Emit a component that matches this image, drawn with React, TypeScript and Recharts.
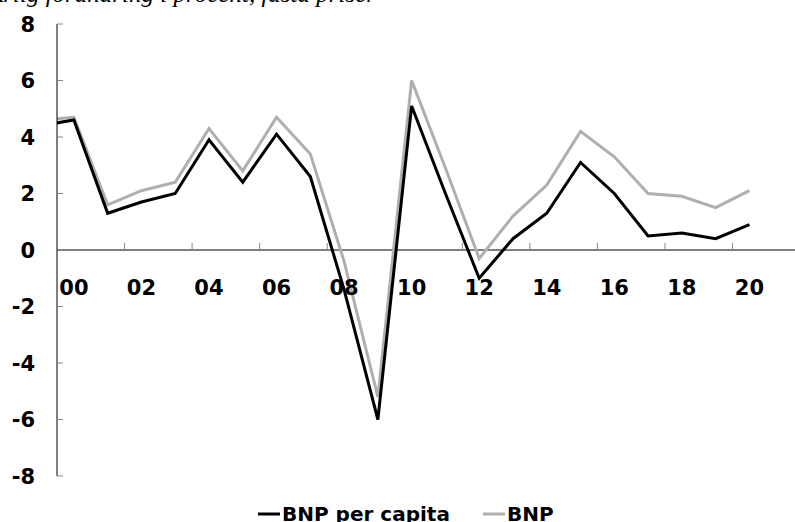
import React from 'react';
import { LineChart, Line, XAxis, YAxis, ReferenceLine } from 'recharts';

// årlig förändring i procent; 1999 ligger utanför axeln och klipps bort
const years = [1999, 2000, 2001, 2002, 2003, 2004, 2005, 2006, 2007, 2008, 2009, 2010, 2011, 2012, 2013, 2014, 2015, 2016, 2017, 2018, 2019, 2020];
const bnpPerCapita = [4.4, 4.6, 1.3, 1.7, 2.0, 3.9, 2.4, 4.1, 2.6, -1.4, -6.0, 5.1, 2.0, -1.0, 0.4, 1.3, 3.1, 2.0, 0.5, 0.6, 0.4, 0.9];
const bnp = [4.6, 4.7, 1.6, 2.1, 2.4, 4.3, 2.8, 4.7, 3.4, -0.4, -5.2, 6.0, 2.9, -0.3, 1.2, 2.3, 4.2, 3.3, 2.0, 1.9, 1.5, 2.1];

const xLabelYears = [2000, 2002, 2004, 2006, 2008, 2010, 2012, 2014, 2016, 2018, 2020];
const xTickMarks = [2001.5, 2003.5, 2005.5, 2007.5, 2009.5, 2011.5, 2013.5, 2015.5, 2017.5, 2019.5];
const yTicks = [-8, -6, -4, -2, 0, 2, 4, 6, 8];

const data = years.map((year, i) => ({
  year,
  perCapita: bnpPerCapita[i],
  bnp: bnp[i],
}));

const W = 795;
const H = 522;
const TOP = 24;
const PLOT_BOTTOM = 476;
const ZERO_Y = TOP + (PLOT_BOTTOM - TOP) / 2;
const FONT = '"DejaVu Sans", Verdana, sans-serif';
const GRAY = '#afafaf';

const XTick = (props: any) => {
  const { x, payload } = props;
  const label = String(payload.value % 100).padStart(2, '0');
  return (
    <text x={x} y={ZERO_Y + 45} textAnchor="middle" fontFamily={FONT} fontWeight="bold" fontSize={21} fill="#000">
      {label}
    </text>
  );
};

const YTick = (props: any) => {
  const { x, y, payload } = props;
  return (
    <g>
      <line x1={x} x2={x + 6} y1={y} y2={y} stroke="#888" strokeWidth={1} />
      <text x={x - 22} y={y} dy="0.36em" textAnchor="end" fontFamily={FONT} fontWeight="bold" fontSize={21} fill="#000">
        {payload.value}
      </text>
    </g>
  );
};

export default function App() {
  return (
    <div style={{ position: 'relative', width: W, height: H, overflow: 'hidden', background: '#fff' }}>
      <style>{'body{margin:0}'}</style>
      <LineChart width={W} height={H} data={data} margin={{ top: TOP, right: 0, bottom: 0, left: 0 }}>
        <XAxis
          dataKey="year"
          type="number"
          domain={[1999.5, 2021.35]}
          allowDataOverflow
          ticks={xLabelYears}
          tick={<XTick />}
          axisLine={false}
          tickLine={false}
          height={H - PLOT_BOTTOM}
          interval={0}
        />
        <YAxis
          type="number"
          domain={[-8, 8]}
          ticks={yTicks}
          tick={<YTick />}
          tickLine={false}
          tickSize={0}
          tickMargin={0}
          axisLine={{ stroke: '#000', strokeWidth: 1 }}
          width={57}
          interval={0}
        />
        <ReferenceLine y={0} stroke="#000" strokeWidth={1} />
        {xTickMarks.map((t) => (
          <ReferenceLine
            key={t}
            segment={[
              { x: t, y: 0 },
              { x: t, y: 0.25 },
            ]}
            stroke="#888"
            strokeWidth={1}
          />
        ))}
        <Line dataKey="bnp" stroke={GRAY} strokeWidth={3} dot={false} isAnimationActive={false} />
        <Line dataKey="perCapita" stroke="#000" strokeWidth={3} dot={false} isAnimationActive={false} />
      </LineChart>
      <svg width={W} height={H} style={{ position: 'absolute', left: 0, top: 0, pointerEvents: 'none' }}>
        <text x={-12} y={2} fontFamily='"Liberation Serif", "Times New Roman", serif' fontStyle="italic" fontSize={25} fill="#000">
          Årlig förändring i procent, fasta priser
        </text>
        <line x1={258} x2={280} y1={514} y2={514} stroke="#000" strokeWidth={3} />
        <text x={282} y={521} fontFamily={FONT} fontWeight="bold" fontSize={20} fill="#000">
          BNP per capita
        </text>
        <line x1={483} x2={505} y1={514} y2={514} stroke={GRAY} strokeWidth={3} />
        <text x={507} y={521} fontFamily={FONT} fontWeight="bold" fontSize={20} fill="#000">
          BNP
        </text>
      </svg>
    </div>
  );
}
